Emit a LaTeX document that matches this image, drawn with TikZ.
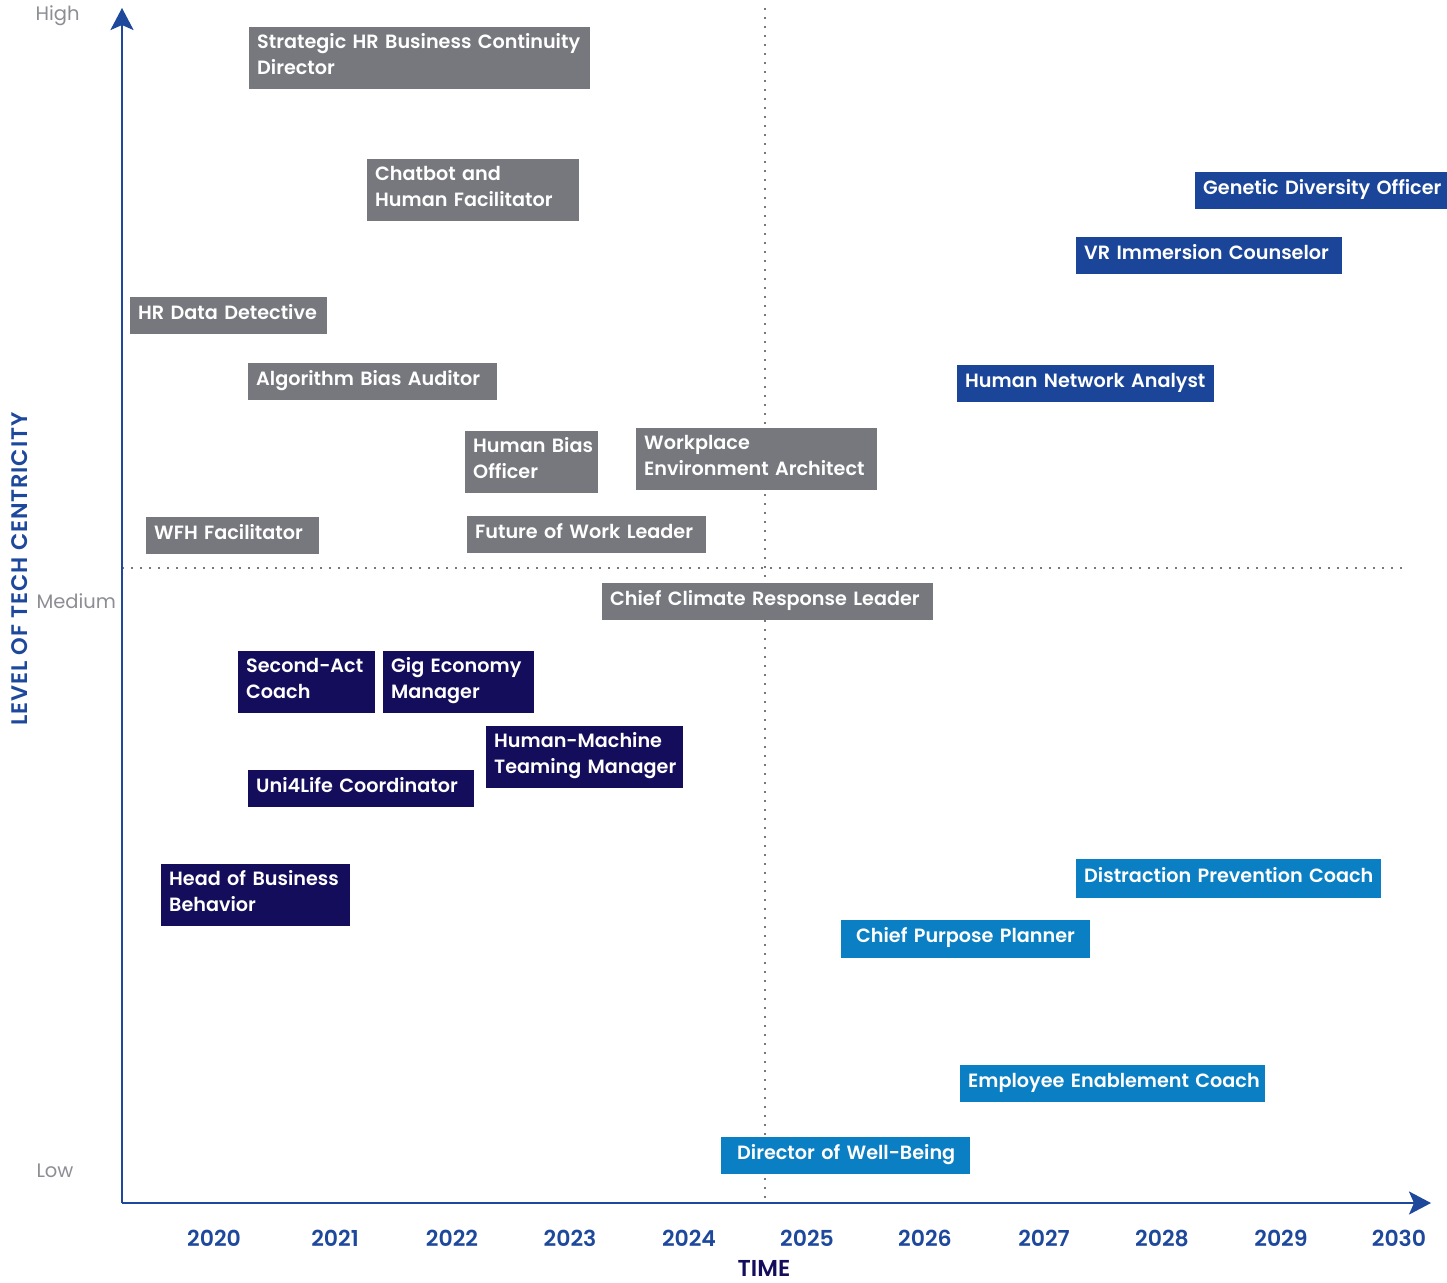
\documentclass[tikz,border=0pt]{standalone}
\usepackage{fontspec}
\setmainfont{Poppins}[BoldFont={Poppins SemiBold}]
\usetikzlibrary{arrows.meta}

\definecolor{rolegray}{RGB}{118,120,126}
\definecolor{rolenavy}{RGB}{20,13,91}
\definecolor{roleblue}{RGB}{26,69,153}
\definecolor{rolesky}{RGB}{10,127,195}
\definecolor{axisblue}{RGB}{29,72,155}
\definecolor{levelgray}{RGB}{140,142,148}

\begin{document}
\begin{tikzpicture}[x=1pt, y=-1pt,
    role/.style={fill=#1, text=white, anchor=north west, inner xsep=0pt, inner ysep=0pt,
      font=\fontsize{19.2}{26}\selectfont\bfseries,
      execute at begin node={\leftskip=8pt\rightskip=0pt plus 1fil\parindent=0pt\rule{0pt}{15pt}},
      execute at end node={\rule[-7.5pt]{0pt}{7.5pt}}},
    axis/.style={draw=axisblue, line width=2.6pt, -{Stealth[length=22pt, width=23pt, inset=5pt]}},
    guide/.style={draw=rolegray, line width=1.5pt, dash pattern=on 2pt off 7pt},
    level/.style={text=levelgray, font=\fontsize{19.5}{22}\selectfont, anchor=west},
    year/.style={text=axisblue, font=\fontsize{22}{26}\selectfont\bfseries}]

    \useasboundingbox (0,0) rectangle (1447,1282);

    % axes and quadrant guides
    \coordinate (origin) at (122,1203);
    \coordinate (ytop) at (122,8);
    \coordinate (xend) at (1431,1203);
    \coordinate (vtop) at (765,8);
    \coordinate (vbot) at (765,1200);
    \coordinate (hleft) at (122,568);
    \coordinate (hright) at (1405,568);
    \draw[guide] (vtop) -- (vbot);
    \draw[guide] (hleft) -- (hright);
    \draw[axis] (origin) -- (ytop);
    \draw[axis] (origin) -- (xend);

    \node[level] (high) at (32,16) {High};
    \node[level] (medium) at (33,601) {Medium};
    \node[level] (low) at (33,1171) {Low};
    \node[text=axisblue, font=\fontsize{22.5}{24}\selectfont\bfseries\addfontfeatures{LetterSpace=4}, rotate=90] (ylabel) at (20,569) {LEVEL OF TECH CENTRICITY};

    \foreach \yr/\xpos in {2020/214, 2021/335, 2022/452, 2023/570, 2024/689, 2025/807,
                           2026/925, 2027/1044, 2028/1162, 2029/1281, 2030/1399}
      \node[year] (y\yr) at (\xpos,1238) {\yr};
    \node[text=rolenavy, font=\fontsize{23}{26}\selectfont\bfseries] (time) at (764,1268) {TIME};

    % gray roles
    \node[role=rolegray, text width=341pt, minimum height=62pt] (strategic) at (249,27) {Strategic HR Business Continuity\\Director};
    \node[role=rolegray, text width=212pt, minimum height=62pt] (chatbot) at (367,159) {Chatbot and\\Human Facilitator};
    \node[role=rolegray, text width=197pt, minimum height=37pt] (hrdata) at (130,297) {HR Data Detective};
    \node[role=rolegray, text width=249pt, minimum height=37pt] (algo) at (248,363) {Algorithm Bias Auditor};
    \node[role=rolegray, text width=133pt, minimum height=62pt] (humanbias) at (465,431) {Human Bias\\Officer};
    \node[role=rolegray, text width=241pt, minimum height=62pt] (workplace) at (636,428) {Workplace\\Environment Architect};
    \node[role=rolegray, text width=173pt, minimum height=37pt] (wfh) at (146,517) {WFH Facilitator};
    \node[role=rolegray, text width=239pt, minimum height=37pt] (futurework) at (467,516) {Future of Work Leader};
    \node[role=rolegray, text width=331pt, minimum height=37pt] (climate) at (602,583) {Chief Climate Response Leader};

    % blue roles
    \node[role=roleblue, text width=252pt, minimum height=37pt] (genetic) at (1195,172) {Genetic Diversity Officer};
    \node[role=roleblue, text width=266pt, minimum height=37pt] (vrcounsel) at (1076,237) {VR Immersion Counselor};
    \node[role=roleblue, text width=257pt, minimum height=37pt] (network) at (957,365) {Human Network Analyst};

    % navy roles
    \node[role=rolenavy, text width=137pt, minimum height=62pt] (secondact) at (238,651) {Second-Act\\Coach};
    \node[role=rolenavy, text width=151pt, minimum height=62pt] (gig) at (383,651) {Gig Economy\\Manager};
    \node[role=rolenavy, text width=197pt, minimum height=62pt] (teaming) at (486,726) {Human-Machine\\Teaming Manager};
    \node[role=rolenavy, text width=226pt, minimum height=37pt] (unilife) at (248,770) {Uni4Life Coordinator};
    \node[role=rolenavy, text width=189pt, minimum height=62pt] (behavior) at (161,864) {Head of Business\\Behavior};

    % sky roles
    \node[role=rolesky, text width=305pt, minimum height=39pt] (distraction) at (1076,859) {Distraction Prevention Coach};
    \node[role=rolesky, text width=249pt, minimum height=38pt] (purpose) at (841,920) {\hspace*{7pt}Chief Purpose Planner};
    \node[role=rolesky, text width=305pt, minimum height=37pt] (enablement) at (960,1065) {Employee Enablement Coach};
    \node[role=rolesky, text width=249pt, minimum height=37pt] (wellbeing) at (721,1137) {\hspace*{8pt}Director of Well-Being};

\end{tikzpicture}
\end{document}
